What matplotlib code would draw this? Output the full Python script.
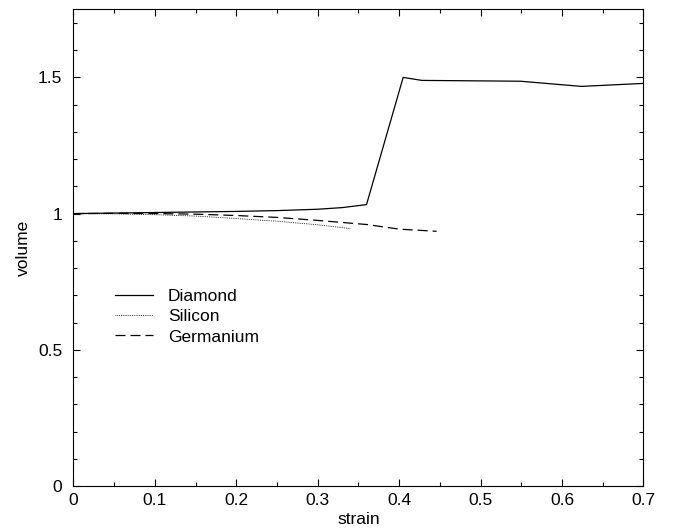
import matplotlib
matplotlib.use('Agg')
import matplotlib.pyplot as plt
from matplotlib.ticker import MultipleLocator

plt.rcParams['font.family'] = ['Liberation Sans', 'DejaVu Sans']

# data
diamond_strain = [0.0, 0.05, 0.10, 0.15, 0.20, 0.25, 0.30, 0.33, 0.36, 0.405, 0.428, 0.549, 0.624, 0.70]
diamond_volume = [1.0, 1.002, 1.004, 1.006, 1.008, 1.011, 1.016, 1.022, 1.033, 1.50, 1.489, 1.486, 1.467, 1.478]

silicon_strain = [0.0, 0.05, 0.10, 0.15, 0.20, 0.25, 0.30, 0.34]
silicon_volume = [1.0, 0.999, 0.996, 0.991, 0.982, 0.972, 0.959, 0.945]

germanium_strain = [0.0, 0.05, 0.10, 0.15, 0.20, 0.25, 0.30, 0.36, 0.40, 0.446]
germanium_volume = [1.0, 1.001, 1.0, 0.998, 0.993, 0.986, 0.975, 0.960, 0.943, 0.935]

fs = 12.5

fig = plt.figure(figsize=(6.73, 5.29), dpi=100)
ax = fig.add_axes([0.109, 0.0813, 0.847, 0.9011])

ax.plot(diamond_strain, diamond_volume, color='black', lw=0.9, label='Diamond')
ax.plot(silicon_strain, silicon_volume, color='black', lw=0.6, linestyle=(0, (1, 1.2)), label='Silicon')
ax.plot(germanium_strain, germanium_volume, color='black', lw=0.9, linestyle=(0, (8, 4)), label='Germanium')

ax.set_xlim(0, 0.7)
ax.set_ylim(0, 1.75)
ax.xaxis.set_minor_locator(MultipleLocator(0.05))
ax.yaxis.set_minor_locator(MultipleLocator(0.1))
ax.set_xticks([0, 0.1, 0.2, 0.3, 0.4, 0.5, 0.6, 0.7])
ax.set_xticklabels(['0', '0.1', '0.2', '0.3', '0.4', '0.5', '0.6', '0.7'])
ax.set_yticks([0, 0.5, 1, 1.5])
ax.set_yticklabels(['0', '0.5', '1', '1.5'])

ax.tick_params(which='both', direction='in', top=True, right=True, labelsize=fs, width=0.8)
ax.tick_params(which='major', length=5)
ax.tick_params(which='minor', length=3)
ax.tick_params(axis='y', pad=8)
ax.tick_params(axis='x', pad=5)
for s in ax.spines.values():
    s.set_linewidth(0.8)

ax.set_xlabel('strain', fontsize=fs, labelpad=3)
ax.set_ylabel('volume', fontsize=fs, labelpad=5)

ax.legend(loc='upper left', bbox_to_anchor=(0.073, 0.414), frameon=False, fontsize=fs,
          handlelength=2.2, handletextpad=0.85, labelspacing=0.3, borderpad=0, borderaxespad=0)

plt.savefig('out.png', dpi=100)
